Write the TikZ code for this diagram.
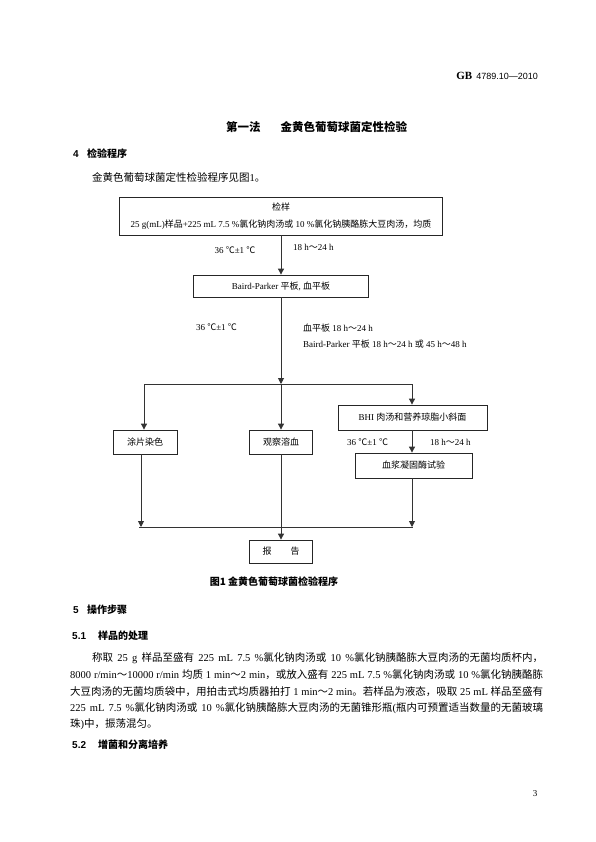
\documentclass[tikz,border=0pt]{standalone}
\usepackage{fontspec}
\setmainfont{Liberation Serif}
\setsansfont{Liberation Sans}
\newfontfamily\zhfont{Noto Sans CJK SC}
\newcommand{\zh}[1]{{\zhfont #1}}
\usetikzlibrary{arrows.meta}
\XeTeXlinebreaklocale "zh"
\XeTeXlinebreakskip=0pt plus 1pt
\tikzset{
  box/.style={draw=black!85, line width=0.8pt, inner sep=0pt, font=\fontsize{9}{11}\selectfont},
  conn/.style={draw=black!80, line width=0.9pt},
  arr/.style={conn, -{Triangle[length=6pt,width=6pt]}},
  lbl/.style={inner sep=0pt, font=\fontsize{9}{11}\selectfont},
  txt/.style={inner sep=0pt, anchor=west, font=\fontsize{10.5}{12}\selectfont},
  head/.style={inner sep=0pt, anchor=west, font=\fontsize{10}{12}\selectfont\bfseries},
}
\begin{document}
\begin{tikzpicture}[x=1pt,y=-1pt]
\useasboundingbox[fill=white] (0,0) rectangle (595,842);
% header
\node[inner sep=0pt, anchor=east] (hdr) at (538,76) {{\fontsize{11}{12}\selectfont\bfseries GB}\hspace{4pt}{\sffamily\fontsize{9}{10}\selectfont 4789.10—2010}};
\node[inner sep=0pt] (title) at (316.5,127) {\zhfont\bfseries\fontsize{11.5}{13}\selectfont 第一法\hspace{20pt}金黄色葡萄球菌定性检验};
% section 4
\node[head] (s4n) at (73,154) {\sffamily 4};
\node[head] (s4t) at (87,154) {\zhfont 检验程序};
\node[txt] (intro) at (92,177) {\zh{金黄色葡萄球菌定性检验程序见图}1\zh{。}};
% flowchart
\node[box, minimum width=323pt, minimum height=38pt, align=center] (b1) at (281,216)
  {\zh{检样}\\[6pt]25 g(mL)\zh{样品}+225 mL 7.5 \%\zh{氯化钠肉汤或} 10 \%\zh{氯化钠胰酪胨大豆肉汤，均质}};
\node[box, minimum width=175pt, minimum height=22pt] (b2) at (281,286) {Baird-Parker \zh{平板}, \zh{血平板}};
\node[box, minimum width=64pt, minimum height=24pt] (tp) at (145,442) {\zh{涂片染色}};
\node[box, minimum width=63pt, minimum height=24pt] (gc) at (281,442) {\zh{观察溶血}};
\node[box, minimum width=149pt, minimum height=25pt] (bhi) at (412.5,417.5) {BHI \zh{肉汤和营养琼脂小斜面}};
\node[box, minimum width=117pt, minimum height=25pt] (xj) at (413.5,465.5) {\zh{血浆凝固酶试验}};
\node[box, minimum width=63pt, minimum height=23pt] (bg) at (281,551.5) {\zh{报}\hspace{19pt}\zh{告}};
\coordinate (jt) at (281,384);
\coordinate (jl) at (144,384);
\coordinate (jr) at (412,384);
\coordinate (bl) at (141,527);
\coordinate (br) at (412,527);
\coordinate (hl) at (139,527);
\coordinate (hr) at (413,527);
\draw[arr] (b1) -- (b2);
\draw[arr] (b2) -- (jt);
\draw[arr] (jt) -- (gc);
\draw[conn] (jl) -- (jr);
\draw[arr] (jl) -- (jl |- tp.north);
\draw[arr] (jr) -- (jr |- bhi.north);
\draw[arr] (jr |- bhi.south) -- (jr |- xj.north);
\draw[arr] (bl |- tp.south) -- (bl);
\draw[arr] (br |- xj.south) -- (br);
\draw[conn] (hl) -- (hr);
\draw[arr] (gc) -- (bg);
% labels
\node[lbl] (l1a) at (235,250) {36 \zh{℃}±1 \zh{℃}};
\node[lbl, anchor=west] (l1b) at (293,247) {18 h\zh{～}24 h};
\node[lbl] (l2a) at (216.5,327) {36 \zh{℃}±1 \zh{℃}};
\node[lbl, anchor=west] (l2b) at (303,328) {\zh{血平板} 18 h\zh{～}24 h};
\node[lbl, anchor=west] (l2c) at (303,344) {Baird-Parker \zh{平板} 18 h\zh{～}24 h \zh{或} 45 h\zh{～}48 h};
\node[lbl, anchor=west] (l3a) at (347,442) {36 \zh{℃}±1 \zh{℃}};
\node[lbl, anchor=west] (l3b) at (430,442) {18 h\zh{～}24 h};
\node[inner sep=0pt] (cap) at (274,582) {\zhfont\bfseries\fontsize{10}{12}\selectfont 图1 金黄色葡萄球菌检验程序};
% section 5
\node[head] (s5n) at (73,610) {\sffamily 5};
\node[head] (s5t) at (87,610) {\zhfont 操作步骤};
\node[head] (s51n) at (72,636) {\sffamily 5.1};
\node[head] (s51t) at (98,636) {\zhfont 样品的处理};
\node[txt] (p1) at (92,658) {\makebox[451pt][s]{\zh{称取} 25 g \zh{样品至盛有} 225 mL 7.5 \%\zh{氯化钠肉汤或} 10 \%\zh{氯化钠胰酪胨大豆肉汤的无菌均质杯内，}}};
\node[txt] (p2) at (70,675) {\makebox[473pt][s]{8000 r/min\zh{～}10000 r/min \zh{均质} 1 min\zh{～}2 min\zh{，或放入盛有} 225 mL 7.5 \%\zh{氯化钠肉汤或} 10 \%\zh{氯化钠胰酪胨}}};
\node[txt] (p3) at (70,692) {\makebox[473pt][s]{\zh{大豆肉汤的无菌均质袋中，用拍击式均质器拍打} 1 min\zh{～}2 min\zh{。若样品为液态，吸取} 25 mL \zh{样品至盛有}}};
\node[txt] (p4) at (70,708) {\makebox[473pt][s]{225 mL 7.5 \%\zh{氯化钠肉汤或} 10 \%\zh{氯化钠胰酪胨大豆肉汤的无菌锥形瓶}(\zh{瓶内可预置适当数量的无菌玻璃}}};
\node[txt] (p5) at (70,724) {\zh{珠})\zh{中，振荡混匀。}};
\node[head] (s52n) at (72,745) {\sffamily 5.2};
\node[head] (s52t) at (98,745) {\zhfont 增菌和分离培养};
\node[inner sep=0pt, font=\fontsize{9}{10}\selectfont] (pg) at (535,794) {3};
\end{tikzpicture}
\end{document}
